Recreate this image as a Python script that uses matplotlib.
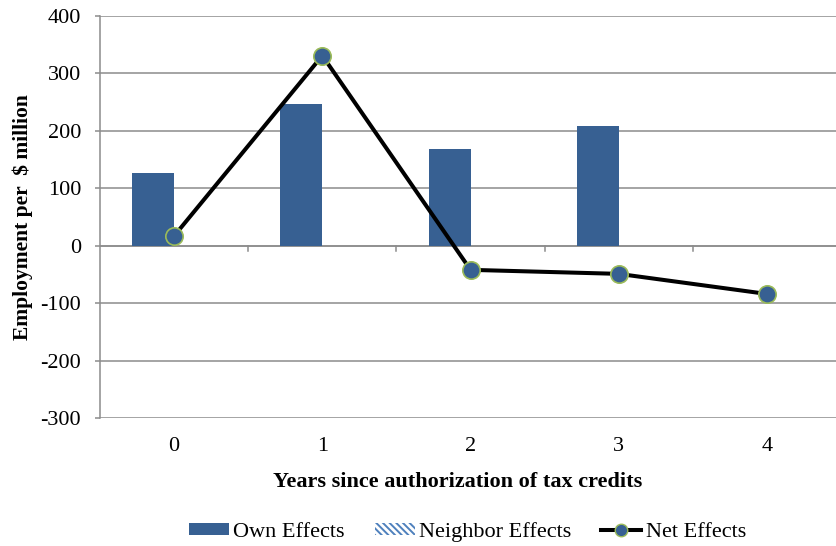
import numpy as np
import matplotlib.pyplot as plt
from matplotlib.patches import Patch
from matplotlib.lines import Line2D

plt.rcParams['font.family'] = ['Liberation Serif', 'DejaVu Serif']
plt.rcParams['axes.unicode_minus'] = False
plt.rcParams['hatch.linewidth'] = 1.4

years = [0, 1, 2, 3, 4]
own = [127, 247, 169, 208, np.nan]
neighbor = [0, 0, 0, 0, 0]
net = [17, 331, -42, -49, -84]

blue = '#376092'
green = '#9BBB59'
hatch_c = '#4F81BD'
grid_c = '#8c8c8c'
fs = 16

fig = plt.figure(figsize=(8.36, 5.46), dpi=100)
ax = fig.add_axes([0.1196, 0.2344, 0.8865, 0.7363])

x = np.arange(len(years))
w = 0.283
ax.bar(x - w / 2, own, width=w, color=blue, zorder=2)
ax.bar(x + w / 2, neighbor, width=w, facecolor='white', edgecolor=hatch_c,
       hatch='\\\\\\\\\\', linewidth=0, zorder=2)
ax.plot(x, net, color='black', lw=2.9, marker='o', ms=12.5,
        mfc=blue, mec=green, mew=1.2, zorder=3)

ax.set_xlim(-0.5, 4.5)
ax.set_ylim(-300, 400)
ax.set_yticks(np.arange(-300, 401, 100))
ax.yaxis.grid(True, color=grid_c, lw=1.1, zorder=0)
ax.set_axisbelow(True)

# category axis sits at zero with tick marks between categories
ax.axhline(0, color=grid_c, lw=1.1, zorder=1)
for b in np.arange(0.5, 4.5, 1.0):
    ax.plot([b, b], [0, -9], color=grid_c, lw=1.1, zorder=1, clip_on=False)

for s in ['top', 'right', 'bottom']:
    ax.spines[s].set_visible(False)
ax.spines['left'].set_color(grid_c)
ax.spines['left'].set_linewidth(1.1)

ax.set_xticks(x)
ax.set_xticklabels([str(y) for y in years])
ax.tick_params(axis='x', length=0, pad=14, labelsize=fs)
ax.tick_params(axis='y', length=3.6, color=grid_c, width=1.1, labelsize=fs, pad=10)

ax.set_xlabel('Years since authorization of tax credits', fontsize=16,
              fontweight='bold', labelpad=12)
ax.xaxis.set_label_coords(0.483, -0.135)
ax.set_ylabel('Employment per  $ million', fontsize=15.5, fontweight='bold',
              labelpad=5)

handles = [
    Patch(facecolor=blue, label='Own Effects'),
    Patch(facecolor='white', edgecolor=hatch_c, hatch='\\\\\\\\\\', lw=0,
          label='Neighbor Effects'),
    Line2D([], [], color='black', lw=2.9, marker='o', ms=9, mfc=blue, mec=green,
           label='Net Effects'),
]
fig.legend(handles=handles, loc='center', bbox_to_anchor=(0.559, 0.026), ncol=3,
           frameon=False, fontsize=fs, handlelength=1.8, handleheight=0.5,
           handletextpad=0.2, columnspacing=1.35)

fig.savefig('out.png', dpi=100)
